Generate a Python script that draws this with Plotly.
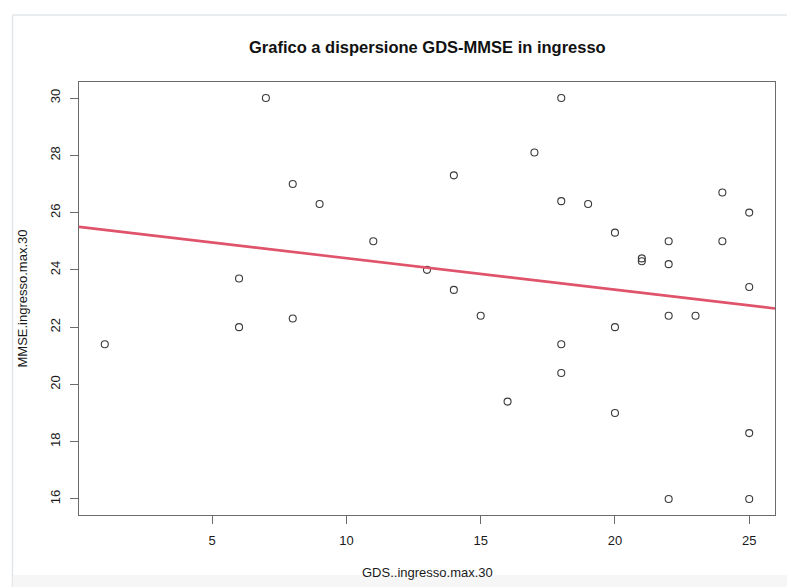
import numpy as np
import plotly.graph_objects as go

gds = [1, 6, 6, 7, 8, 8, 9, 11, 13, 14, 14, 15, 16, 17, 18, 18, 18, 18, 19,
       20, 20, 20, 21, 21, 22, 22, 22, 22, 23, 24, 24, 25, 25, 25, 25]
mmse = [21.4, 23.7, 22.0, 30.0, 27.0, 22.3, 26.3, 25.0, 24.0, 27.3, 23.3, 22.4,
        19.4, 28.1, 30.0, 26.4, 21.4, 20.4, 26.3, 25.3, 22.0, 19.0, 24.4, 24.3,
        25.0, 24.2, 22.4, 16.0, 22.4, 26.7, 25.0, 26.0, 23.4, 18.3, 16.0]
x_ticks = [5, 10, 15, 20, 25]
y_ticks = [16, 18, 20, 22, 24, 26, 28, 30]

title = "Grafico a dispersione GDS-MMSE in ingresso"
x_title = "GDS..ingresso.max.30"
y_title = "MMSE.ingresso.max.30"

x = np.array(gds, dtype=float)
y = np.array(mmse, dtype=float)

def r_range(v):
    lo, hi = float(np.min(v)), float(np.max(v))
    d = (hi - lo) * 0.04
    return [lo - d, hi + d]

xr = r_range(x)
yr = r_range(y)

slope, intercept = np.polyfit(x, y, 1)
lx = np.array(xr)
ly = intercept + slope * lx

FONT = "Liberation Sans, Arial, Helvetica, sans-serif"
TXT = "#1a1a1a"
AX = "#6b6b6b"

# page body has an 8px margin; figure is sized/positioned to compensate
OFF = 8
W, H = 795 - OFF, 587 - OFF
L, R, T, B = 79, 775, 82, 515          # plot box in window pixels
PW, PH = R - L, B - T

def px(v):
    return (v - L) / PW

def py(v):
    return (B - v) / PH

fig = go.Figure()
fig.add_trace(go.Scatter(
    x=gds, y=mmse, mode="markers",
    marker=dict(symbol="circle-open", size=7, color="#3a3a3a",
                line=dict(width=1.1, color="#3a3a3a")),
    showlegend=False, hoverinfo="x+y"))
fig.add_trace(go.Scatter(
    x=lx, y=ly, mode="lines",
    line=dict(color="#DF536B", width=2.6),
    showlegend=False, hoverinfo="skip"))

axis_common = dict(
    showgrid=False, zeroline=False, showline=True, linecolor=AX, linewidth=1.2,
    mirror=True, ticks="outside", ticklen=8, tickwidth=1.2, tickcolor=AX,
    ticklabelstandoff=5,
    tickfont=dict(family=FONT, size=13, color=TXT),
)

fig.update_layout(
    width=W, height=H,
    margin=dict(l=L - OFF, r=W - (R - OFF), t=T - OFF, b=H - (B - OFF)),
    paper_bgcolor="white", plot_bgcolor="white",
    font=dict(family=FONT, color=TXT),
    xaxis=dict(range=xr, tickvals=x_ticks, **axis_common),
    yaxis=dict(range=yr, tickvals=y_ticks, tickangle=-90, **axis_common),
    showlegend=False,
    annotations=[
        dict(text="<b>" + title + "</b>", xref="paper", yref="paper",
             x=0.5, y=py(47), xanchor="center", yanchor="middle",
             showarrow=False, font=dict(family=FONT, size=16.5, color="#111")),
        dict(text=x_title, xref="paper", yref="paper",
             x=0.5, y=py(572), xanchor="center", yanchor="middle",
             showarrow=False, font=dict(family=FONT, size=13, color=TXT)),
        dict(text=y_title, xref="paper", yref="paper", textangle=-90,
             x=px(22), y=0.5, xanchor="center", yanchor="middle",
             showarrow=False, font=dict(family=FONT, size=13, color=TXT)),
    ],
    shapes=[
        dict(type="line", xref="paper", yref="paper",
             x0=px(12.5), x1=px(800), y0=py(15), y1=py(15),
             line=dict(color="#e2e6e9", width=1.5), layer="below"),
        dict(type="line", xref="paper", yref="paper",
             x0=px(12.5), x1=px(12.5), y0=py(15), y1=py(595),
             line=dict(color="#e2e6e9", width=1.5), layer="below"),
        dict(type="rect", xref="paper", yref="paper",
             x0=px(13.5), x1=px(800), y0=py(575), y1=py(600),
             fillcolor="#f6f6f6", line=dict(width=0), layer="below"),
    ],
)

fig.write_html("out.html")
